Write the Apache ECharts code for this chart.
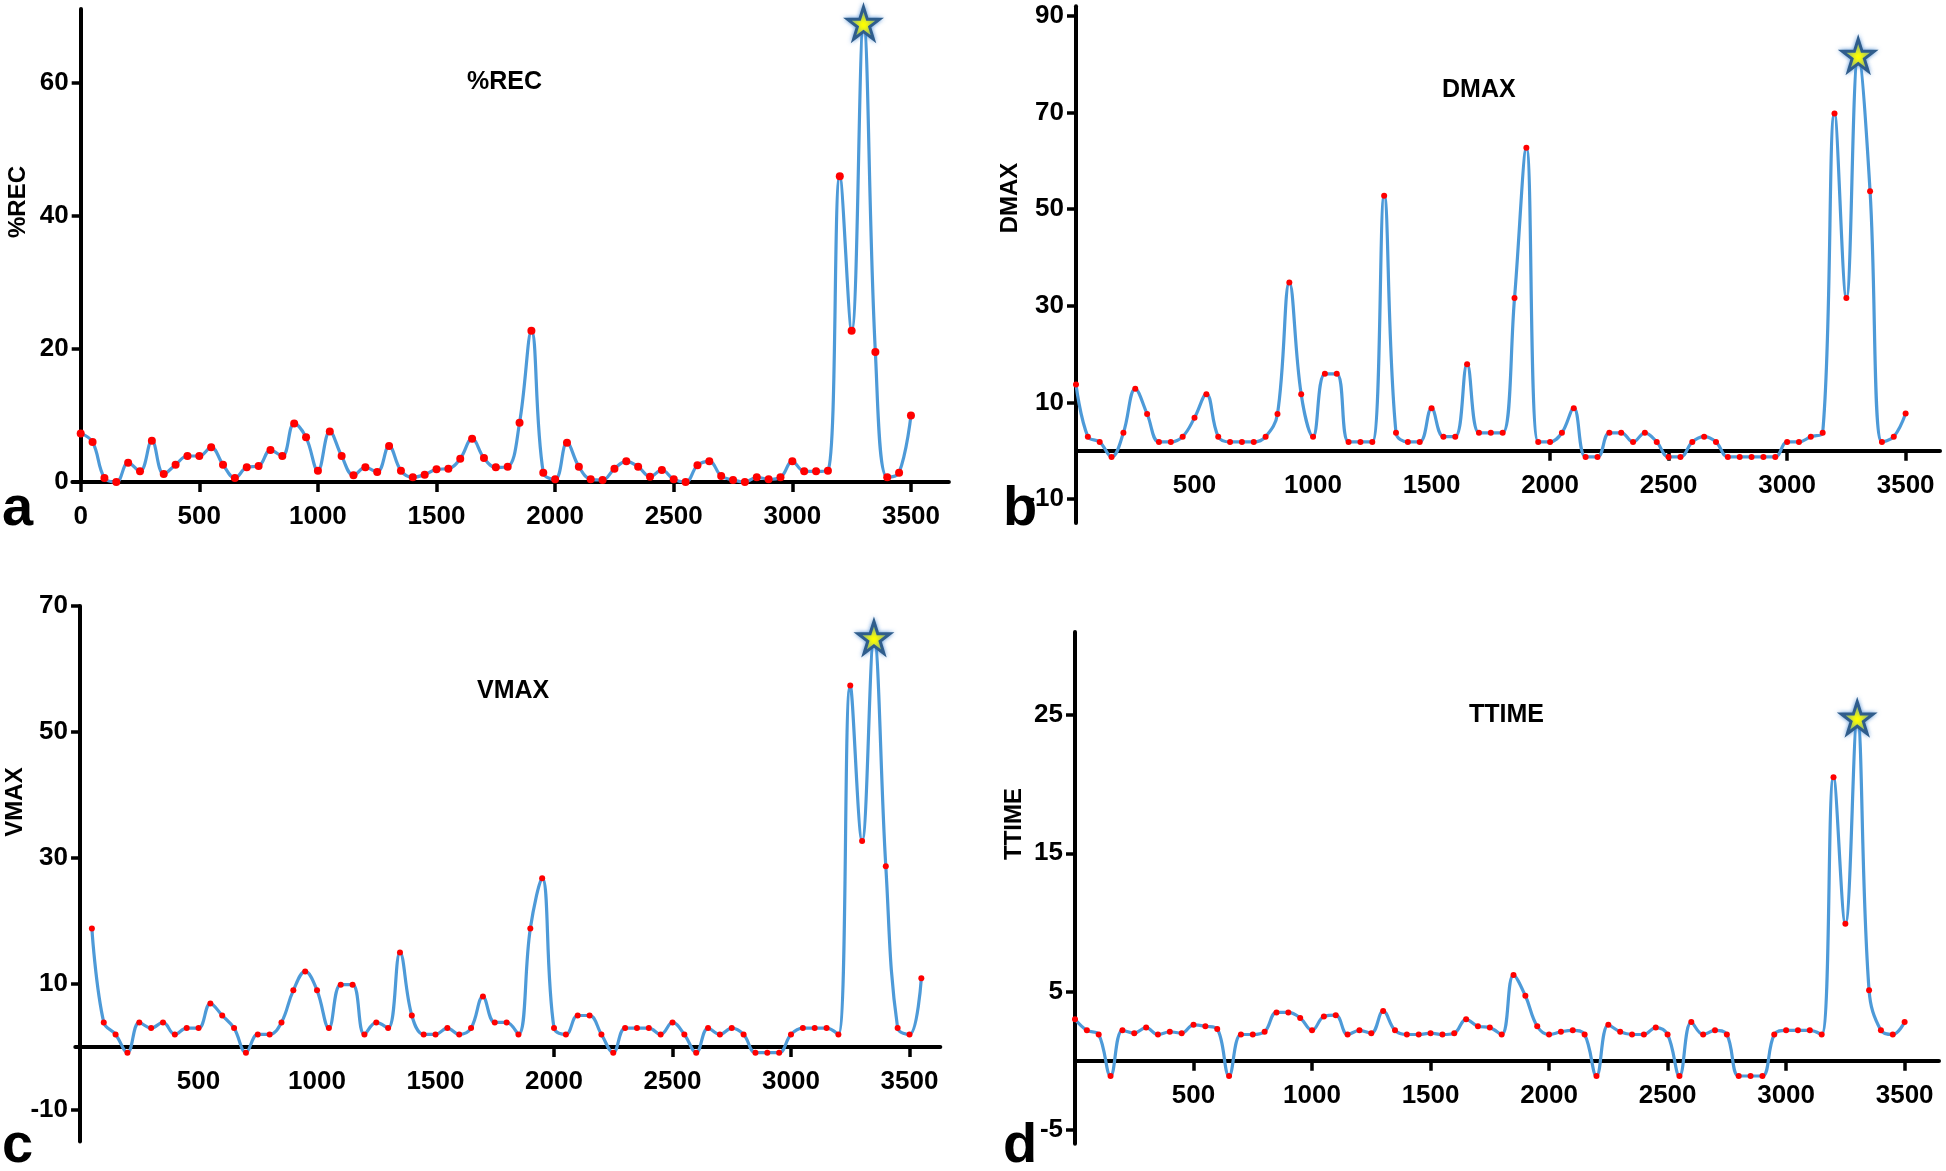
<!DOCTYPE html>
<html><head><meta charset="utf-8">
<script src="https://cdn.jsdelivr.net/npm/echarts@6/dist/echarts.min.js"></script>
<style>html,body{margin:0;padding:0;background:#fff}#c{width:1946px;height:1171px}</style>
</head><body><div id="c"></div>
<script>
// sample positions
const xABD = [0,50,100,150,200,250,300,350,400,450,
  500,550,600,650,700,750,800,850,900,950,
  1000,1050,1100,1150,1200,1250,1300,1350,1400,1450,
  1500,1550,1600,1650,1700,1750,1800,1850,1900,1950,
  2000,2050,2100,2150,2200,2250,2300,2350,2400,2450,
  2500,2550,2600,2650,2700,2750,2800,2850,2900,2950,
  3000,3050,3100,3150,3200,3250,3300,3350,3400,3450,
  3500];
const xC = [50,100,150,200,250,300,350,400,450,500,
  550,600,650,700,750,800,850,900,950,1000,
  1050,1100,1150,1200,1250,1300,1350,1400,1450,1500,
  1550,1600,1650,1700,1750,1800,1850,1900,1950,2000,
  2050,2100,2150,2200,2250,2300,2350,2400,2450,2500,
  2550,2600,2650,2700,2750,2800,2850,2900,2950,3000,
  3050,3100,3150,3200,3250,3300,3350,3400,3450,3500,
  3550];

// series values
const recValues = [7.3,6.0,0.6,0,2.9,1.6,6.2,1.2,2.6,3.9,
  3.9,5.2,2.6,0.6,2.2,2.4,4.8,3.9,8.8,6.7,
  1.7,7.6,3.9,1.0,2.2,1.5,5.4,1.7,0.7,1.1,
  1.9,2.0,3.5,6.5,3.6,2.2,2.3,8.9,22.7,1.4,
  0.4,5.9,2.3,0.4,0.3,2.0,3.1,2.3,0.8,1.8,
  0.4,0,2.5,3.1,0.9,0.3,0,0.7,0.4,0.7,
  3.1,1.6,1.6,1.7,45.9,22.7,68.9,19.5,0.7,1.4,
  10.0];
const dmaxValues = [13.7,2.9,1.8,-1.3,3.7,12.8,7.6,1.8,1.8,2.9,
  6.8,11.7,2.9,1.8,1.8,1.8,2.9,7.6,34.8,11.7,
  2.9,15.9,15.9,1.8,1.8,1.8,52.8,3.7,1.8,1.8,
  8.8,2.9,2.9,17.9,3.7,3.7,3.7,31.6,62.7,1.8,
  1.8,3.7,8.8,-1.3,-1.3,3.7,3.7,1.8,3.7,1.8,
  -1.3,-1.3,1.8,2.9,1.8,-1.3,-1.3,-1.3,-1.3,-1.3,
  1.8,1.8,2.9,3.7,69.8,31.6,81.9,53.7,1.8,2.9,
  7.7];
const vmaxValues = [18.8,3.9,2.0,-0.9,3.9,3.0,3.9,2.0,3.0,3.0,
  6.9,5.0,3.0,-0.9,2.0,2.0,3.9,9.0,12.0,9.0,
  3.0,9.9,9.9,2.0,3.9,3.0,15.0,5.0,2.0,2.0,
  3.0,2.0,3.0,8.0,3.9,3.9,2.0,18.8,26.8,3.0,
  2.0,5.0,5.0,2.0,-0.9,3.0,3.0,3.0,2.0,3.9,
  2.0,-0.9,3.0,2.0,3.0,2.0,-0.9,-0.9,-0.9,2.0,
  3.0,3.0,3.0,2.0,57.4,32.7,65.0,28.7,3.0,2.0,
  10.9];
const ttimeValues = [3.0,2.2,1.9,-1.1,2.2,2.0,2.4,1.9,2.1,2.0,
  2.6,2.5,2.3,-1.1,1.9,1.9,2.1,3.5,3.5,3.1,
  2.2,3.2,3.3,1.9,2.2,2.0,3.6,2.2,1.9,1.9,
  2.0,1.9,2.0,3.0,2.5,2.4,1.9,6.2,4.7,2.5,
  1.9,2.1,2.2,1.9,-1.1,2.6,2.1,1.9,1.9,2.4,
  1.9,-1.1,2.8,1.9,2.2,1.9,-1.1,-1.1,-1.1,1.9,
  2.2,2.2,2.2,1.9,20.5,9.9,24.8,5.1,2.2,1.9,
  2.8];

// tick labels
const xTicksA = [0,500,1000,1500,2000,2500,3000,3500];
const xTicksBCD = [500,1000,1500,2000,2500,3000,3500];
const yTicksA = [0,20,40,60];
const yTicksB = [-10,10,30,50,70,90];
const yTicksC = [-10,10,30,50,70];
const yTicksD = [-5,5,15,25];
const panelNames = ['%REC','DMAX','VMAX','TTIME'];
const panelLetters = ['a','b','c','d'];

const FONT = '"Liberation Sans", Arial, sans-serif';
const STAR = 'path://M50,2 L61.8,37.6 L99,37.6 L68.8,59.6 L80.4,95 L50,73 L19.6,95 L31.2,59.6 L1,37.6 L38.2,37.6 Z';

const grids = [
  {left:72.4, top:9.1, width:876.5, height:472.9},
  {left:1076, top:6.3, width:864, height:516.8},
  {left:75.3, top:606, width:865, height:535.5},
  {left:1075, top:632, width:864, height:511.8}
];
const xRanges = [[-35,3660],[0,3645],[-20,3630],[0,3645]];
const yRanges = [[0,71],[-15,92],[-15,70],[-6,31]];
const xLabelVals = [xTicksA, xTicksBCD, xTicksBCD, xTicksBCD];
const xTickVals = [xTicksA, [2000,2500,3000,3500], [2000,2500,3000,3500], xTicksBCD];
const yLabelVals = [yTicksA, yTicksB, yTicksC, yTicksD];
const xs = [xABD, xABD, xC, xABD];
const ys = [recValues, dmaxValues, vmaxValues, ttimeValues];
const dotSizes = [8, 6, 6, 6];
const fmt = v => String(v);

const xAxes = [], yAxes = [], series = [];
for (let i = 0; i < 4; i++) {
  const g = grids[i], xr = xRanges[i], yr = yRanges[i];
  // shift axes so that they cross at the zero of the other axis
  const xOff = -(0 - yr[0]) / (yr[1] - yr[0]) * g.height;
  const yOff = -(0 - xr[0]) / (xr[1] - xr[0]) * g.width;
  xAxes.push({
    type:'value', gridIndex:i, min:xr[0], max:xr[1], position:'bottom', offset:xOff,
    splitLine:{show:false},
    axisLine:{show:true, onZero:false, lineStyle:{color:'#000', width:4}},
    axisTick:{show:true, length:10, customValues:xTickVals[i], lineStyle:{color:'#000', width:3.5}},
    axisLabel:{customValues:xLabelVals[i], formatter:fmt, margin:22, color:'#000', fontSize:26, fontWeight:'bold', fontFamily:FONT}
  });
  yAxes.push({
    type:'value', gridIndex:i, min:yr[0], max:yr[1], position:'left', offset:yOff,
    splitLine:{show:false},
    axisLine:{show:true, onZero:false, lineStyle:{color:'#000', width:4}},
    axisTick:{show:true, length:9, customValues:yLabelVals[i], lineStyle:{color:'#000', width:3.5}},
    axisLabel:{customValues:yLabelVals[i], formatter:fmt, margin:12, color:'#000', fontSize:26, fontWeight:'bold', fontFamily:FONT}
  });
  const yv = ys[i];
  let maxIdx = 0;
  yv.forEach((v, k) => { if (v > yv[maxIdx]) maxIdx = k; });
  const data = xs[i].map((x, k) => {
    if (k === maxIdx) {
      return {value:[x, yv[k]], symbol:STAR, symbolSize:32,
        itemStyle:{color:'#ffff00', borderColor:'#2f5d8c', borderWidth:3,
          shadowBlur:4, shadowColor:'rgba(60,130,210,0.7)'}};
    }
    return [x, yv[k]];
  });
  series.push({
    type:'line', name:panelNames[i], xAxisIndex:i, yAxisIndex:i,
    data, smooth:0.4, clip:false, showAllSymbol:true,
    symbol:'circle', symbolSize:dotSizes[i],
    lineStyle:{color:'#4d9ad8', width:3.2},
    itemStyle:{color:'#ff0000', borderWidth:0},
    emphasis:{disabled:true}, animation:false
  });
}

const titlePos = [[467,70],[1442,77.5],[477,678.5],[1469,703]];
const titles = panelNames.map((t, i) => ({
  text:t, left:titlePos[i][0], top:titlePos[i][1], padding:0,
  textStyle:{fontSize:25, fontWeight:'bold', color:'#000', fontFamily:FONT}
}));

const yNamePos = [[18,202],[1010,198],[15,802],[1014,824]];
const letterPos = [[2,510],[1003,510],[2,1147],[1003,1147]];
const graphic = [];
panelNames.forEach((t, i) => {
  graphic.push({type:'text', x:yNamePos[i][0], y:yNamePos[i][1], rotation:Math.PI/2,
    style:{text:t, font:'bold 24px ' + FONT, fill:'#000', align:'center', verticalAlign:'middle'}});
  graphic.push({type:'text', x:letterPos[i][0], y:letterPos[i][1],
    style:{text:panelLetters[i], font:'bold 56px ' + FONT, fill:'#000', align:'left', verticalAlign:'middle'}});
});

const chart = echarts.init(document.getElementById('c'), null, {renderer:'canvas'});
chart.setOption({
  backgroundColor:'#fff',
  animation:false,
  title:titles,
  grid:grids,
  xAxis:xAxes,
  yAxis:yAxes,
  series,
  graphic
});
</script></body></html>
